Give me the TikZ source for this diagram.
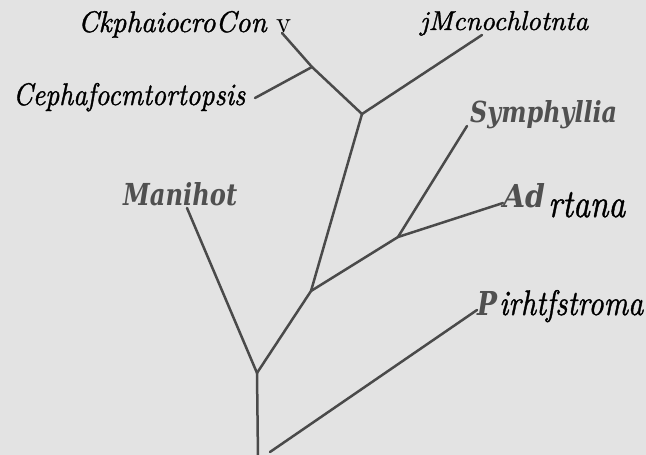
\documentclass[tikz,border=0pt]{standalone}
\usepackage{fontspec}
\usepackage{graphicx}
\newfontfamily\grayfont{DejaVu Serif}
\newfontfamily\blackit{Latin Modern Roman}[ItalicFeatures={FakeBold=1.2}]
\definecolor{bg}{HTML}{E3E3E3}
\definecolor{branch}{HTML}{4A4A4A}
\definecolor{graytext}{HTML}{505050}
\tikzset{
  edge/.style={draw=branch, line width=2.5pt, line cap=round, line join=round},
  blacklabel/.style={anchor=base west, inner sep=0pt, text=black, font=\blackit},
  graylabel/.style={anchor=base west, inner sep=0pt, text=graytext, font=\grayfont}
}
\begin{document}
\begin{tikzpicture}[x=1pt,y=-1pt]
\fill[bg] (0,0) rectangle (646,455);
\useasboundingbox (0,0) rectangle (646,455);
% coordinates of the tree
\coordinate (root) at (258,458);
\coordinate (A) at (257,373);
\coordinate (pstart) at (270,452);
\coordinate (pend) at (477,310);
\coordinate (mend) at (187,208);
\coordinate (B) at (311,291);
\coordinate (C) at (398,237);
\coordinate (adend) at (503,203);
\coordinate (syend) at (467,126);
\coordinate (D) at (362,114);
\coordinate (jend) at (482,35);
\coordinate (E) at (312,67);
\coordinate (ctop) at (282,33);
\coordinate (ceph) at (255,98);
% branches
\draw[edge] (root) -- (A);
\draw[edge] (pstart) -- (pend);
\draw[edge] (A) -- (mend);
\draw[edge] (A) -- (B);
\draw[edge] (B) -- (C);
\draw[edge] (C) -- (adend);
\draw[edge] (C) -- (syend);
\draw[edge] (B) -- (D);
\draw[edge] (D) -- (jend);
\draw[edge] (D) -- (E);
\draw[edge] (E) -- (ctop);
\draw[edge] (E) -- (ceph);
% labels
\node[blacklabel] (lck) at (78,32) {\resizebox{213pt}{21pt}{\itshape CkphaiocroCon\upshape\ v}};
\node[blacklabel] (ljm) at (420,30) {\resizebox{168pt}{19pt}{\itshape jMcnochlotnta}};
\node[blacklabel] (lce) at (13,105) {\resizebox{232pt}{22pt}{\itshape Cephafocmtortopsis}};
\node[graylabel] (lsy) at (470,122) {\resizebox{147pt}{22pt}{\bfseries\itshape Symphyllia}};
\node[graylabel] (lma) at (123,205) {\resizebox{114pt}{23pt}{\bfseries\itshape Manihot}};
\node[graylabel] (lad) at (503,207) {\resizebox{42pt}{24pt}{\bfseries\itshape Ad}};
\node[blacklabel] (lrt) at (548,217) {\resizebox{77pt}{25pt}{\itshape rtana}};
\node[graylabel] (lp) at (477,315) {\resizebox{20pt}{24pt}{\bfseries\itshape P}};
\node[blacklabel] (lir) at (499,315) {\resizebox{144pt}{25pt}{\itshape irhtfstroma}};
\end{tikzpicture}
\end{document}
